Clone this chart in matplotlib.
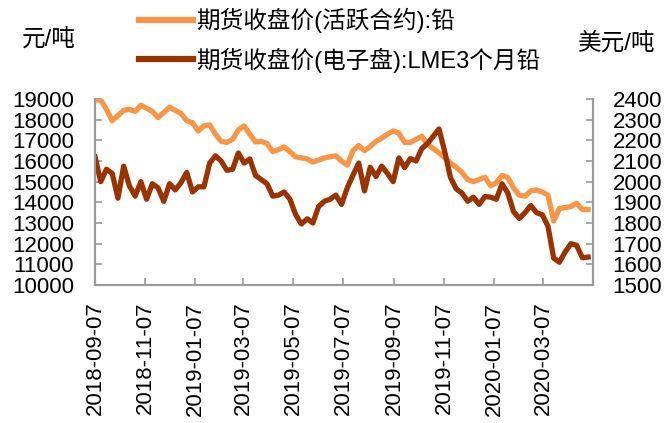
import matplotlib
matplotlib.use("Agg")
import matplotlib.pyplot as plt
import matplotlib.dates as mdates
from matplotlib.lines import Line2D
import pandas as pd

plt.rcParams['font.family'] = ['Liberation Sans', 'Noto Sans CJK SC']

# ---- data (weekly samples) ----
dates = pd.date_range('2018-09-07', periods=87, freq='7D')

shfe_lead = [  # 期货收盘价(活跃合约):铅, 元/吨 (left axis)
    18950, 18950, 18500, 17950, 18200, 18450, 18500, 18400, 18700, 18550,
    18400, 18100, 18350, 18600, 18450, 18300, 17950, 17850, 17450, 17700,
    17750, 17300, 16950, 16900, 17050, 17500, 17700, 17300, 16920, 16950,
    16850, 16450, 16550, 16680, 16450, 16200, 16150, 16100, 15950, 16050,
    16150, 16200, 16250, 16000, 15800, 16500, 16750, 16500, 16700, 16950,
    17100, 17300, 17450, 17350, 16900, 16900, 17050, 17200, 16800, 16600,
    16400, 16150, 15900, 15700, 15450, 15100, 15000, 15100, 15220, 14800,
    14950, 15300, 15200, 14700, 14350, 14300, 14550, 14600, 14500, 14350,
    13100, 13700, 13750, 13800, 13950, 13650, 13650,
]

lme_lead = [  # 期货收盘价(电子盘):LME3个月铅, 美元/吨 (right axis)
    2120, 2000, 2060, 2040, 1920, 2075, 1980, 1930, 2000, 1915,
    1990, 1970, 1905, 1990, 1960, 1995, 2045, 1950, 1975, 1975,
    2090, 2125, 2100, 2055, 2060, 2139, 2090, 2110, 2030, 2010,
    1990, 1930, 1935, 1950, 1915, 1840, 1795, 1820, 1800, 1880,
    1905, 1915, 1935, 1890, 1970, 2032, 2090, 1955, 2070, 2025,
    2075, 2040, 2000, 2115, 2068, 2112, 2100, 2160, 2185, 2220,
    2255, 2145, 2020, 1965, 1945, 1905, 1925, 1890, 1928, 1925,
    1915, 1990, 1945, 1855, 1822, 1850, 1885, 1850, 1840, 1785,
    1630, 1610, 1660, 1700, 1692, 1632, 1635,
]

tick_labels = ['2018-09-07', '2018-11-07', '2019-01-07', '2019-03-07', '2019-05-07',
               '2019-07-07', '2019-09-07', '2019-11-07', '2020-01-07', '2020-03-07']
left_ticks = [10000, 11000, 12000, 13000, 14000, 15000, 16000, 17000, 18000, 19000]
right_ticks = [1500, 1600, 1700, 1800, 1900, 2000, 2100, 2200, 2300, 2400]

name_left = '期货收盘价(活跃合约):铅'
name_right = '期货收盘价(电子盘):LME3个月铅'
unit_left = '元/吨'
unit_right = '美元/吨'

# ---- styling ----
c_orange = '#F79646'
c_brown = '#993300'
spine_c = '#9A9A9A'
fs = 16

fig = plt.figure(figsize=(6.69, 4.23), dpi=100)
ax = fig.add_axes([95/669, 1-285/423, (593-95)/669, (285-99)/423])
ax2 = ax.twinx()

ax.plot(dates, shfe_lead, color=c_orange, lw=3.8, solid_joinstyle='round')
ax2.plot(dates, lme_lead, color=c_brown, lw=3.8, solid_joinstyle='round')

ax.set_xlim(pd.Timestamp('2018-09-07'), pd.Timestamp('2020-05-07'))
ax.set_ylim(10000, 19000)
ax2.set_ylim(1500, 2400)

ax.set_yticks(left_ticks)
ax.set_yticklabels([str(v) for v in left_ticks])
ax2.set_yticks(right_ticks)
ax2.set_yticklabels([str(v) for v in right_ticks])
ax.set_xticks([pd.Timestamp(t) for t in tick_labels])
ax.set_xticklabels(tick_labels, rotation=90)

for a in (ax, ax2):
    a.spines['top'].set_visible(False)
    for s in ('left', 'right', 'bottom'):
        a.spines[s].set_color(spine_c)
        a.spines[s].set_linewidth(1.5)
    a.patch.set_visible(False)

ax.tick_params(axis='x', direction='in', length=5, width=1.2, color=spine_c,
               labelsize=fs, pad=12)
ax.tick_params(axis='y', direction='in', length=5, width=1.2, color=spine_c,
               labelsize=fs, pad=15)
ax2.tick_params(axis='y', direction='in', length=5, width=1.2, color=spine_c,
                labelsize=fs, pad=14)

# units
fig.text(22/669, 1-39/423, unit_left, fontsize=17, va='center', ha='left')
fig.text(578/669, 1-43/423, unit_right, fontsize=17, va='center', ha='left')

# legend
handles = [Line2D([0], [0], color=c_orange, lw=4.5),
           Line2D([0], [0], color=c_brown, lw=4.5)]
fig.legend(handles, [name_left, name_right], loc='upper left',
           bbox_to_anchor=(134/669, 1-3/423), frameon=False, fontsize=17,
           handlelength=2.3, handletextpad=0.15, labelspacing=0.62,
           borderaxespad=0, borderpad=0.2)

fig.savefig('out.png', dpi=100)
